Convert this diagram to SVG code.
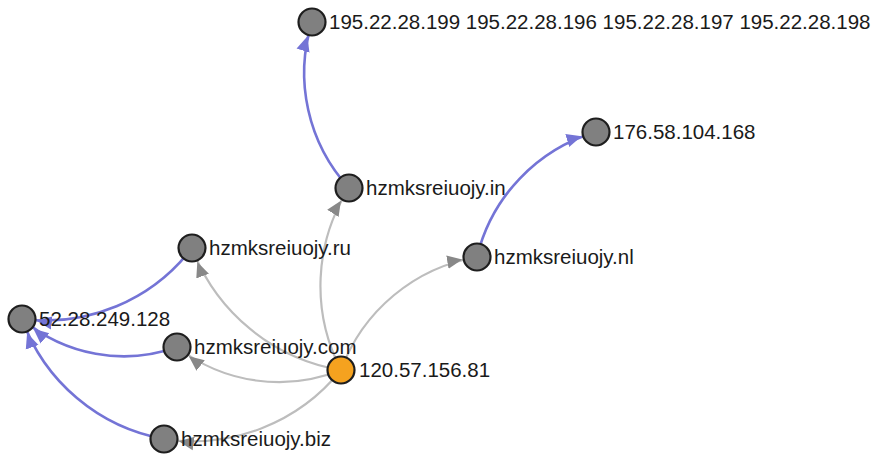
<svg xmlns="http://www.w3.org/2000/svg" width="880" height="457" viewBox="0 0 880 457">
<style>
.bg{fill:#ffffff}
.lg{fill:none;stroke:#bdbdbd;stroke-width:2.2}
.lb{fill:none;stroke:#7474d6;stroke-width:2.6}
.nd circle{fill:#808080;stroke:#1e1e1e;stroke-width:2.2}
.nd circle.src{fill:#f5a21f}
.nd text{font-family:"Liberation Sans",Arial,sans-serif;font-size:20.5px;fill:#1a1a1a}
</style>
<defs>
<marker id="ag" viewBox="0 -5 10 10" refX="20" refY="0" markerUnits="userSpaceOnUse" markerWidth="15" markerHeight="15" orient="auto">
<path d="M0,-4.5L10,0L0,4.5Z" fill="#888888"/>
</marker>
<marker id="ab" viewBox="0 -5 10 10" refX="20" refY="0" markerUnits="userSpaceOnUse" markerWidth="15" markerHeight="15" orient="auto">
<path d="M0,-4.5L10,0L0,4.5Z" fill="#7474d6"/>
</marker>
</defs>
<rect class="bg" x="0" y="0" width="880" height="457"/>
<g id="connectors">
<path class="lg" marker-end="url(#ag)" d="M341,370A182.2,182.2 0 0,1 349,188"/>
<path class="lg" marker-end="url(#ag)" d="M341,370A192.6,192.6 0 0,1 192,248"/>
<path class="lg" marker-end="url(#ag)" d="M341,370A176.8,176.8 0 0,1 477,257"/>
<path class="lg" marker-end="url(#ag)" d="M341,370A165.6,165.6 0 0,1 177,347"/>
<path class="lg" marker-end="url(#ag)" d="M341,370A190,190 0 0,1 164,439"/>
<path class="lb" marker-end="url(#ab)" d="M349,188A170.1,170.1 0 0,1 312,22"/>
<path class="lb" marker-end="url(#ab)" d="M477,257A172.6,172.6 0 0,1 596,132"/>
<path class="lb" marker-end="url(#ab)" d="M192,248A184.2,184.2 0 0,1 22,319"/>
<path class="lb" marker-end="url(#ab)" d="M177,347A157.5,157.5 0 0,1 22,319"/>
<path class="lb" marker-end="url(#ab)" d="M164,439A185.9,185.9 0 0,1 22,319"/>
</g>
<g id="n-195" class="nd"><circle cx="312" cy="22" r="13.5"/><text x="329" y="29">195.22.28.199 195.22.28.196 195.22.28.197 195.22.28.198</text></g>
<g id="n-176" class="nd"><circle cx="596" cy="132" r="13.5"/><text x="613" y="139">176.58.104.168</text></g>
<g id="n-in" class="nd"><circle cx="349" cy="188" r="13.5"/><text x="366" y="195">hzmksreiuojy.in</text></g>
<g id="n-ru" class="nd"><circle cx="192" cy="248" r="13.5"/><text x="209" y="255">hzmksreiuojy.ru</text></g>
<g id="n-nl" class="nd"><circle cx="477" cy="257" r="13.5"/><text x="494" y="264">hzmksreiuojy.nl</text></g>
<g id="n-52" class="nd"><circle cx="22" cy="319" r="13.5"/><text x="39" y="326">52.28.249.128</text></g>
<g id="n-com" class="nd"><circle cx="177" cy="347" r="13.5"/><text x="194" y="354">hzmksreiuojy.com</text></g>
<g id="n-120" class="nd"><circle class="src" cx="341" cy="370" r="13.5"/><text x="359" y="377">120.57.156.81</text></g>
<g id="n-biz" class="nd"><circle cx="164" cy="439" r="13.5"/><text x="181" y="446">hzmksreiuojy.biz</text></g>
</svg>
